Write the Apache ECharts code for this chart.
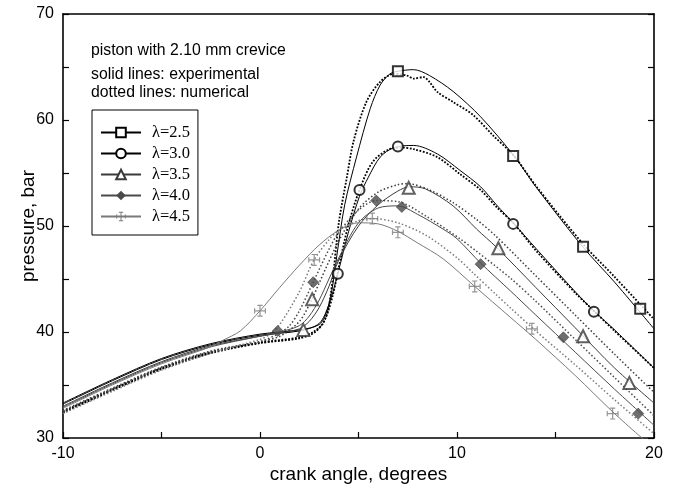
<!DOCTYPE html>
<html>
<head>
<meta charset="utf-8">
<script src="https://cdn.jsdelivr.net/npm/echarts@6/dist/echarts.min.js"></script>
<style>
  html, body { margin: 0; padding: 0; background: #fff; }
  #chart { width: 676px; height: 489px; }
</style>
</head>
<body>
<div id="chart"></div>
<script>
// crank angle (deg) / pressure (bar)
const names = ['λ=2.5', 'λ=3.0', 'λ=3.5', 'λ=4.0', 'λ=4.5']

const exp25 = [[-10,33.3],[-7.5,35.5],[-5,37.5],[-2.5,38.9],[0,39.8],[2,40.2],[3,40.7],[3.4,42.0],[3.7,44.5],[3.9,47.2],[4.3,52.0],[4.9,56.5],[5.6,61.1],[6.1,63.3],[6.6,64.35],[7.0,64.6],[7.8,64.75],[8.6,64.2],[9.8,62.7],[11.2,60.3],[12.9,56.6],[14,53.7],[16.4,48.0],[18,44.7],[20,40.3]]
const num25 = [[-10,32.5],[-7.5,34.6],[-5,36.6],[-2.5,38.1],[0,39.0],[2,39.5],[2.7,40.0],[3.2,40.8],[3.5,42.5],[3.75,46.0],[4.0,50.3],[4.4,54.5],[4.75,58.0],[5.4,61.7],[6.1,63.6],[6.8,64.35],[7.45,64.2],[7.8,63.9],[8.3,64.05],[8.6,63.6],[9.0,62.65],[9.8,61.7],[10.8,60.5],[11.8,58.6],[12.9,56.6],[14,53.8],[16.4,48.3],[18,45.2],[20,41.2]]
const exp30 = [[-10,33.2],[-7.5,35.4],[-5,37.4],[-2.5,38.8],[0,39.7],[2,40.1],[3,40.8],[3.5,42.6],[3.95,45.5],[4.5,49.5],[5.05,52.8],[5.5,54.6],[6.1,56.5],[6.8,57.4],[7.8,57.6],[9,56.8],[10.15,55.25],[11.2,53.7],[12,52.0],[12.9,50.2],[14,47.9],[16,43.8],[17,41.9],[18,40.2],[20,36.6]]
const num30 = [[-10,32.4],[-7.5,34.5],[-5,36.5],[-2.5,38.0],[0,38.95],[2,39.4],[2.8,40.0],[3.3,41.2],[3.7,43.5],[4.1,47.0],[4.5,50.2],[5.05,53.4],[5.7,56.0],[6.5,57.2],[7.2,57.4],[7.8,57.25],[9,56.5],[10.15,54.9],[11.2,53.4],[12,51.8],[12.9,50.2],[14,47.7],[16,43.7],[17,41.9],[18,40.1],[20,36.6]]
const exp35 = [[-10,33.0],[-7.5,35.2],[-5,37.2],[-2.5,38.7],[0,39.6],[1,39.9],[2,40.3],[2.5,41.0],[3,42.3],[3.5,44.3],[4,46.8],[5,50.0],[6,52.0],[7,53.3],[7.6,53.7],[8.4,53.5],[9.8,51.9],[11,49.7],[12,48.0],[14,44.2],[16,40.4],[18,36.6],[20,33.3]]
const num35 = [[-10,32.6],[-7.5,34.7],[-5,36.7],[-2.5,38.2],[0,39.1],[1,39.6],[2,41.0],[2.64,43.1],[3,44.6],[4,48.6],[5,51.6],[6,53.2],[7,53.9],[7.5,54.0],[8.6,53.4],[9.8,52.2],[11,50.6],[12,49.0],[14,45.3],[16,41.6],[18,37.9],[20,34.3]]
const exp40 = [[-10,32.9],[-7.5,35.1],[-5,37.1],[-2.5,38.6],[0,39.6],[1,40.0],[2,40.6],[2.5,41.5],[3,43.0],[3.5,45.0],[4,47.0],[5,50.3],[6,51.7],[7,51.9],[8,51.1],[9.3,49.7],[10,48.8],[11.2,46.5],[12.7,43.9],[14,41.6],[16,38.1],[18,34.6],[20,31.2]]
const num40 = [[-10,32.5],[-7.5,34.6],[-5,36.6],[-2.5,38.1],[0,39.1],[1,39.9],[1.5,40.6],[2,42.0],[2.7,44.7],[3.5,47.8],[4,49.4],[5,51.5],[5.9,52.4],[7,52.3],[8.45,50.9],[10.15,48.8],[11,47.6],[12.7,45.1],[14,42.9],[16,39.3],[18,35.7],[20,32.1]]
const exp45 = [[-10,32.8],[-7.5,35.0],[-5,37.0],[-2.5,38.6],[-1.9,39.2],[-1,40.1],[0,42.0],[1,44.2],[2,46.3],[3,48.2],[4,49.6],[5,50.3],[6,50.2],[7,49.5],[8,48.4],[9.3,46.9],[10.9,44.3],[12.7,41.4],[14,39.3],[16,35.9],[18,32.3],[20,29.0]]
const num45 = [[-10,32.3],[-7.5,34.4],[-5,36.4],[-2.5,38.0],[0,39.3],[0.5,39.8],[1,40.7],[2,43.8],[2.74,46.8],[3.5,48.7],[4,49.6],[5,50.5],[5.7,50.7],[7,50.3],[8.45,49.1],[10,47.0],[10.8,45.6],[12,43.5],[12.7,42.3],[14,40.1],[16,36.9],[18,33.6],[20,30.4]]

// marker positions
const mk25 = [[7.0,64.6],[12.85,56.6],[16.4,48.05],[19.3,42.2]]
const mk30 = [[3.95,45.5],[5.05,53.4],[7.0,57.5],[12.85,50.2],[16.95,41.9]]
const mk35 = [[2.2,40.2],[2.65,43.1],[7.55,53.6],[12.1,47.9],[16.4,39.6],[18.75,35.2]]
const mk40 = [[0.9,40.1],[2.7,44.7],[5.9,52.4],[7.2,51.8],[11.2,46.4],[15.4,39.5],[19.2,32.3]]
const mk45 = [[0,42.0],[2.75,46.8],[5.7,50.7],[7.0,49.4],[10.9,44.3],[13.8,40.3],[17.9,32.3]]

const xTicks = [-10, 0, 10, 20]
const yTicks = [30, 40, 50, 60, 70]

const crossPath = 'path://M4.5,0h1v10h-1z M2.8,0h4.4v1h-4.4z M2.8,9h4.4v1h-4.4z M0,4.5h10v1h-10z M0,2.8h1v4.4h-1z M9,2.8h1v4.4h-1z'

const exps = [exp25, exp30, exp35, exp40, exp45]
const nums = [num25, num30, num35, num40, num45]
const marks = [mk25, mk30, mk35, mk40, mk45]
const colors = ['#000', '#000', '#3a3a3a', '#4a4a4a', '#7a7a7a']
const symbols = ['emptyRect', 'emptyCircle', 'emptyTriangle', 'diamond', crossPath]
const symSizes = [10, 10, 12, 11, 12]

const series = []
exps.forEach((d, i) => {
  series.push({
    name: names[i],
    type: 'line',
    data: d,
    smooth: 0.3,
    showSymbol: false,
    symbol: symbols[i],
    color: colors[i],
    lineStyle: { color: colors[i], width: 1 },
    z: 3,
  })
})
nums.forEach((d, i) => {
  series.push({
    type: 'line',
    data: d,
    smooth: 0.3,
    showSymbol: false,
    symbol: 'none',
    lineStyle: { color: colors[i], width: i < 2 ? 1.8 : 1.5, type: i < 2 ? [1.8, 1.6] : [1.5, 2.2] },
    z: 2,
  })
})
marks.forEach((d, i) => {
  series.push({
    type: 'scatter',
    data: d,
    symbol: symbols[i],
    symbolSize: symSizes[i],
    itemStyle: { color: colors[i], borderColor: colors[i], borderWidth: i === 4 ? 0 : 0.9 },
    z: 5,
  })
})

const tickStyle = { inside: true, length: 6, lineStyle: { color: '#000', width: 1.2 } }
const lineStyleAx = { show: true, onZero: false, lineStyle: { color: '#000', width: 1.6 } }
const font = 'Liberation Sans, Arial, sans-serif'

const chart = echarts.init(document.getElementById('chart'))
chart.setOption({
  animation: false,
  grid: { left: 63, right: 22, top: 14, bottom: 43 },
  legend: {
    data: names,
    orient: 'vertical',
    left: 92,
    top: 110,
    padding: [14, 8, 10, 8],
    itemWidth: 40,
    itemHeight: 12,
    itemGap: 4,
    borderColor: '#000',
    borderWidth: 1,
    lineStyle: { width: 2 },
    itemStyle: { borderWidth: 1 },
    textStyle: { fontFamily: 'Liberation Serif, Times New Roman, serif', fontSize: 16.5, color: '#000', padding: [0, 0, 0, 6] },
  },
  graphic: [
    { type: 'text', left: 91, top: 43, style: { text: 'piston with 2.10 mm crevice', font: '15.8px ' + font, fill: '#000' } },
    { type: 'text', left: 91, top: 67, style: { text: 'solid lines: experimental', font: '15.8px ' + font, fill: '#000' } },
    { type: 'text', left: 91, top: 85, style: { text: 'dotted lines: numerical', font: '15.8px ' + font, fill: '#000' } },
  ],
  xAxis: [
    {
      type: 'value', min: -10, max: 20, interval: 5, position: 'bottom',
      axisLine: lineStyleAx, axisTick: tickStyle, splitLine: { show: false },
      axisLabel: { formatter: (v) => (xTicks.includes(v) ? String(v) : ''), fontFamily: font, fontSize: 16, color: '#000', margin: 8 },
      name: 'crank angle, degrees', nameLocation: 'middle', nameGap: 27, nameMoveOverlap: false,
      nameTextStyle: { fontFamily: font, fontSize: 19, color: '#000' },
    },
    {
      type: 'value', min: -10, max: 20, interval: 5, position: 'top',
      axisLine: lineStyleAx, axisTick: { show: false }, axisLabel: { show: false }, splitLine: { show: false },
    },
  ],
  yAxis: [
    {
      type: 'value', min: 30, max: 70, interval: 5, position: 'left',
      axisLine: lineStyleAx, axisTick: tickStyle, splitLine: { show: false },
      axisLabel: { formatter: (v) => (yTicks.includes(v) ? String(v) : ''), fontFamily: font, fontSize: 16, color: '#000', margin: 9 },
      name: 'pressure, bar', nameLocation: 'middle', nameGap: 25, nameMoveOverlap: false,
      nameTextStyle: { fontFamily: font, fontSize: 19, color: '#000' },
    },
    {
      type: 'value', min: 30, max: 70, interval: 5, position: 'right',
      axisLine: lineStyleAx, axisTick: tickStyle, axisLabel: { show: false }, splitLine: { show: false },
    },
  ],
  series: series,
})
</script>
</body>
</html>
